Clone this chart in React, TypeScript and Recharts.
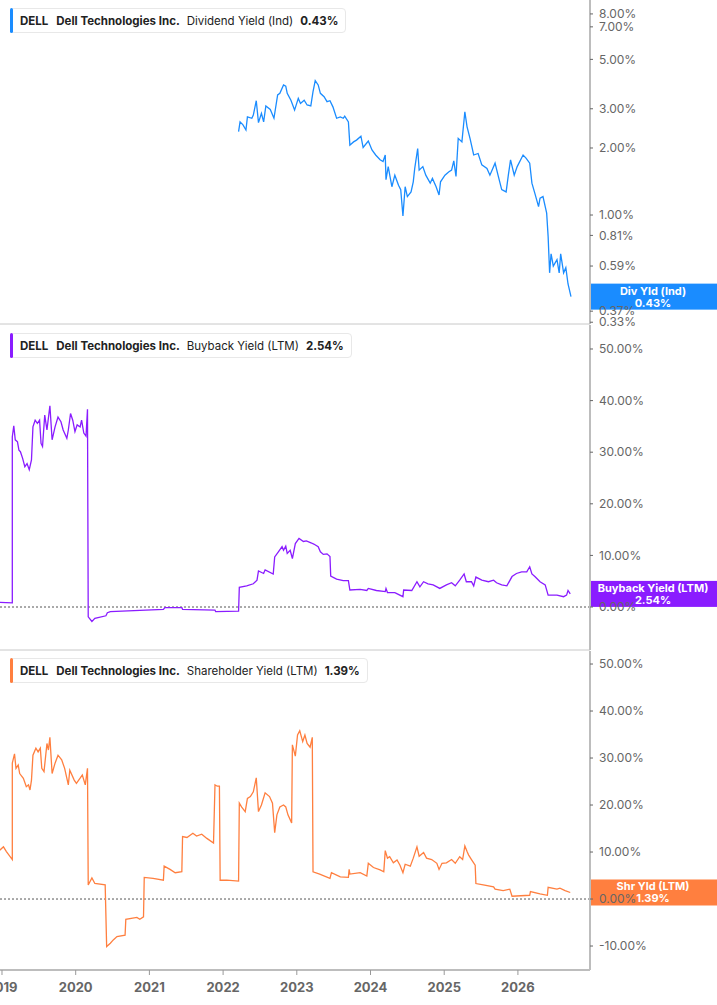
import React from 'react'
import { LineChart, Line, XAxis, YAxis, ReferenceLine } from 'recharts'

// time axis in decimal years
const X_DOMAIN = [2018.973, 2026.978]
const yearTicks = [2019, 2020, 2021, 2022, 2023, 2024, 2025, 2026]

const divDates = [
  2022.21, 2022.23, 2022.27, 2022.31, 2022.33, 2022.39, 2022.41, 2022.45, 2022.48, 2022.52,
  2022.55, 2022.58, 2022.64, 2022.69, 2022.74, 2022.77, 2022.82, 2022.85, 2022.87, 2022.92,
  2022.97, 2023.02, 2023.05, 2023.1, 2023.14, 2023.19, 2023.22, 2023.25, 2023.29, 2023.32,
  2023.37, 2023.41, 2023.45, 2023.49, 2023.54, 2023.59, 2023.63, 2023.65, 2023.7, 2023.72,
  2023.77, 2023.81, 2023.87, 2023.9, 2023.97, 2024.02, 2024.07, 2024.13, 2024.17, 2024.2,
  2024.21, 2024.24, 2024.29, 2024.33, 2024.38, 2024.41, 2024.44, 2024.47, 2024.5, 2024.55,
  2024.58, 2024.6, 2024.64, 2024.66, 2024.71, 2024.75, 2024.81, 2024.84, 2024.89, 2024.93,
  2024.95, 2025.01, 2025.06, 2025.1, 2025.13, 2025.16, 2025.19, 2025.24, 2025.28, 2025.31,
  2025.35, 2025.4, 2025.46, 2025.51, 2025.58, 2025.62, 2025.69, 2025.73, 2025.78, 2025.84,
  2025.87, 2025.9, 2025.95, 2025.99, 2026.07, 2026.11, 2026.16, 2026.19, 2026.23, 2026.28,
  2026.3, 2026.34, 2026.39, 2026.41, 2026.43, 2026.45, 2026.48, 2026.53, 2026.56, 2026.58,
  2026.62, 2026.65, 2026.68, 2026.72,
]
const divValues = [
  2.37, 2.62, 2.54, 2.41, 2.76, 2.72, 2.81, 3.26, 2.6, 2.86,
  2.62, 3.09, 2.98, 2.72, 3.46, 3.52, 3.84, 3.79, 3.52, 3.28,
  2.96, 3.34, 3.17, 3.28, 3.12, 3.09, 3.58, 4.01, 3.84, 3.52,
  3.4, 3.23, 3.26, 3.06, 2.72, 2.76, 2.72, 2.78, 2.62, 2.06,
  2.13, 2.17, 2.26, 2.01, 2.15, 1.96, 1.86, 1.77, 1.74, 1.86,
  1.44, 1.65, 1.34, 1.51, 1.36, 1.3, 0.99, 1.34, 1.21, 1.27,
  1.41, 1.62, 1.99, 1.59, 1.65, 1.51, 1.39, 1.46, 1.34, 1.23,
  1.41, 1.51, 1.56, 1.59, 1.75, 1.49, 2.21, 2.13, 2.91, 2.49,
  2.21, 1.86, 1.89, 1.68, 1.62, 1.51, 1.71, 1.51, 1.3, 1.27,
  1.51, 1.77, 1.51, 1.65, 1.86, 1.8, 1.71, 1.39, 1.25, 1.09,
  1.19, 1.21, 1.02, 0.8, 0.55, 0.67, 0.59, 0.63, 0.55, 0.67,
  0.55, 0.58, 0.49, 0.43,
]
const divTicks = [0.33, 0.37, 0.59, 0.81, 1, 2, 3, 5, 7, 8]

const buyDates = [
  2018.97, 2019.14, 2019.14, 2019.16, 2019.18, 2019.21, 2019.23, 2019.25, 2019.28, 2019.31,
  2019.34, 2019.37, 2019.4, 2019.42, 2019.45, 2019.48, 2019.51, 2019.53, 2019.55, 2019.58,
  2019.61, 2019.65, 2019.68, 2019.72, 2019.76, 2019.8, 2019.83, 2019.88, 2019.9, 2019.93,
  2019.96, 2019.99, 2020.02, 2020.06, 2020.08, 2020.11, 2020.14, 2020.16, 2020.17, 2020.22,
  2020.26, 2020.41, 2020.43, 2020.47, 2021.19, 2021.21, 2021.44, 2021.45, 2021.89, 2021.9,
  2022.21, 2022.22, 2022.32, 2022.41, 2022.46, 2022.48, 2022.55, 2022.57, 2022.68, 2022.7,
  2022.75, 2022.8, 2022.82, 2022.85, 2022.87, 2022.91, 2022.94, 2022.98, 2023.03, 2023.09,
  2023.13, 2023.2, 2023.23, 2023.29, 2023.32, 2023.36, 2023.41, 2023.45, 2023.46, 2023.54,
  2023.63, 2023.7, 2023.72, 2023.86, 2023.95, 2023.97, 2024.08, 2024.2, 2024.21, 2024.23,
  2024.33, 2024.44, 2024.45, 2024.56, 2024.63, 2024.67, 2024.72, 2024.78, 2024.85, 2024.94,
  2025.03, 2025.1, 2025.15, 2025.21, 2025.27, 2025.3, 2025.37, 2025.4, 2025.43, 2025.51,
  2025.6, 2025.67, 2025.71, 2025.78, 2025.85, 2025.92, 2025.98, 2026.05, 2026.12, 2026.16,
  2026.19, 2026.23, 2026.3, 2026.37, 2026.41, 2026.53, 2026.62, 2026.66, 2026.68, 2026.71,
]
const buyValues = [
  0.9, 0.8, 33.0, 35.1, 32.4, 32.0, 30.4, 30.1, 28.8, 27.2,
  27.8, 26.6, 28.5, 34.9, 36.2, 35.6, 36.2, 31.7, 31.1, 37.2,
  34.3, 39.0, 32.4, 34.9, 36.8, 35.9, 34.3, 32.7, 34.3, 37.5,
  36.2, 34.0, 35.3, 34.9, 36.2, 33.7, 33.1, 38.3, -1.9, -2.8,
  -2.2, -1.7, -1.1, -0.9, -0.45, -0.1, -0.1, -0.45, -0.6, -0.9,
  -0.8, 3.8, 4.1, 4.5, 5.2, 7.0, 6.5, 7.2, 6.4, 9.7,
  10.7, 11.7, 11.0, 11.8, 10.4, 11.0, 9.4, 12.3, 13.3, 12.7,
  12.8, 12.4, 12.2, 11.7, 10.7, 10.2, 10.3, 9.8, 6.0, 5.4,
  5.1, 5.1, 3.3, 3.4, 3.2, 3.6, 3.2, 3.0, 3.6, 2.8,
  2.8, 2.0, 3.3, 3.2, 4.9, 3.9, 4.9, 4.5, 4.3, 3.6,
  4.3, 4.7, 4.1, 5.2, 6.4, 4.9, 4.9, 4.1, 5.8, 5.2,
  4.9, 5.2, 4.7, 4.3, 4.1, 5.9, 6.5, 6.8, 6.8, 7.8,
  6.4, 5.9, 4.9, 4.3, 2.3, 2.3, 2.0, 2.3, 3.2, 2.54,
]
const buyTicks = [0, 10, 20, 30, 40, 50]

const shrDates = [
  2018.97, 2019.02, 2019.06, 2019.14, 2019.14, 2019.17, 2019.19, 2019.22, 2019.24, 2019.29,
  2019.33, 2019.36, 2019.38, 2019.4, 2019.42, 2019.46, 2019.49, 2019.52, 2019.54, 2019.57,
  2019.61, 2019.63, 2019.65, 2019.68, 2019.72, 2019.76, 2019.81, 2019.85, 2019.9, 2019.92,
  2019.98, 2020.01, 2020.06, 2020.09, 2020.13, 2020.16, 2020.17, 2020.22, 2020.26, 2020.4,
  2020.42, 2020.47, 2020.51, 2020.56, 2020.67, 2020.68, 2020.83, 2020.87, 2020.92, 2020.93,
  2021.05, 2021.19, 2021.2, 2021.28, 2021.35, 2021.44, 2021.45, 2021.51, 2021.59, 2021.64,
  2021.71, 2021.78, 2021.87, 2021.89, 2021.92, 2021.95, 2021.96, 2022.05, 2022.21, 2022.22,
  2022.25, 2022.3, 2022.33, 2022.37, 2022.41, 2022.45, 2022.48, 2022.52, 2022.57, 2022.63,
  2022.67, 2022.7, 2022.73, 2022.77, 2022.82, 2022.85, 2022.88, 2022.93, 2022.94, 2022.98,
  2023.01, 2023.04, 2023.08, 2023.11, 2023.14, 2023.18, 2023.21, 2023.22, 2023.31, 2023.45,
  2023.47, 2023.59, 2023.7, 2023.71, 2023.72, 2023.86, 2023.95, 2023.97, 2024.04, 2024.13,
  2024.18, 2024.2, 2024.23, 2024.26, 2024.31, 2024.36, 2024.4, 2024.44, 2024.47, 2024.54,
  2024.58, 2024.63, 2024.66, 2024.72, 2024.76, 2024.83, 2024.9, 2024.93, 2024.97, 2025.03,
  2025.1, 2025.15, 2025.21, 2025.25, 2025.28, 2025.31, 2025.33, 2025.37, 2025.42, 2025.43,
  2025.53, 2025.67, 2025.69, 2025.8, 2025.89, 2025.92, 2026.16, 2026.17, 2026.3, 2026.4,
  2026.41, 2026.53, 2026.57, 2026.64, 2026.71,
]
const shrValues = [
  10.4, 11.1, 10.1, 8.4, 28.9, 30.9, 27.8, 28.5, 26.7, 25.7,
  23.9, 24.3, 23.2, 25.3, 30.6, 32.1, 31.3, 32.1, 27.8, 27.1,
  33.1, 31.7, 34.4, 26.7, 28.9, 30.6, 29.6, 27.8, 24.3, 27.4,
  25.3, 24.6, 25.7, 26.4, 24.3, 27.8, 3.0, 4.5, 3.3, 3.0,
  -10.1, -9.4, -8.7, -8.0, -7.7, -4.3, -3.9, -4.3, -3.8, 4.6,
  4.4, 4.0, 7.0, 6.3, 5.6, 5.8, 13.3, 13.1, 14.0, 13.4,
  13.8, 12.9, 11.9, 24.3, 24.0, 24.0, 4.0, 4.0, 3.8, 20.4,
  19.6, 18.6, 21.4, 21.8, 22.8, 25.8, 18.6, 20.0, 22.6, 21.8,
  20.4, 14.1, 17.9, 19.6, 20.0, 19.6, 17.9, 16.2, 32.8, 30.4,
  34.9, 35.8, 33.5, 34.9, 33.1, 32.3, 34.4, 5.8, 5.3, 4.4,
  5.6, 4.7, 4.6, 6.3, 5.3, 5.6, 4.9, 7.6, 6.7, 6.2,
  5.8, 10.3, 8.7, 9.0, 7.7, 8.3, 7.2, 5.6, 7.4, 7.0,
  8.7, 11.1, 9.1, 9.9, 8.7, 8.4, 7.6, 6.3, 7.6, 7.7,
  8.4, 7.6, 9.0, 8.4, 11.3, 10.1, 9.4, 8.4, 7.2, 3.3,
  3.0, 2.6, 2.1, 1.8, 2.1, 0.6, 0.8, 1.6, 1.1, 0.8,
  2.5, 2.1, 2.3, 1.8, 1.39,
]
const shrTicks = [-10, 0, 10, 20, 30, 40, 50]

const divData = divDates.map((t, i) => ({ t, v: divValues[i] }))
const buyData = buyDates.map((t, i) => ({ t, v: buyValues[i] }))
const shrData = shrDates.map((t, i) => ({ t, v: shrValues[i] }))

const BLUE = '#1a8cff'
const PURPLE = '#8a1cff'
const ORANGE = '#ff7f3f'
const FONT = 'Inter, "Noto Sans", sans-serif'
const AXIS_GRAY = '#bdbdbd'

const yTick = { fill: '#666', fontSize: 12, fontFamily: FONT }

function ValueTag(props: any) {
  const { viewBox, color, title, value } = props
  if (!viewBox) return null
  const x = viewBox.x + viewBox.width
  const y = viewBox.y
  return (
    <g>
      <rect x={x} y={y - 13} width={127} height={26} fill={color} />
      <text x={x + 63} y={y - 2} textAnchor="middle" fill="#fff" fontSize={11} fontWeight={700} fontFamily={FONT}>
        {title}
      </text>
      <text x={x + 63} y={y + 10} textAnchor="middle" fill="#fff" fontSize={11} fontWeight={700} fontFamily={FONT}>
        {value}
      </text>
    </g>
  )
}

function Legend({ top, color, metric, value }: any) {
  return (
    <div
      style={{
        position: 'absolute', left: 10, top, height: 25, display: 'flex', alignItems: 'center',
        background: '#fff', border: '1px solid #e8e8e8', borderRadius: 4, paddingRight: 7,
        fontFamily: FONT, fontSize: 11.5, color: '#222', whiteSpace: 'nowrap', boxSizing: 'border-box',
      }}
    >
      <div style={{ width: 3, height: 25, marginLeft: -1, background: color, borderRadius: 2 }} />
      <span style={{ fontWeight: 700, marginLeft: 7 }}>DELL</span>
      <span style={{ fontWeight: 700, marginLeft: 8 }}>Dell Technologies Inc.</span>
      <span style={{ marginLeft: 7 }}>{metric}</span>
      <span style={{ fontWeight: 700, marginLeft: 7 }}>{value}</span>
    </div>
  )
}

const pct = (v: number) => `${v.toFixed(2)}%`

export default function App() {
  return (
    <div style={{ position: 'absolute', left: 0, top: 0, width: 717, height: 1005, background: '#fff' }}>
      <div style={{ position: 'absolute', left: 0, top: 0 }}>
        <LineChart width={717} height={335} data={divData} margin={{ top: 0, right: 0, bottom: 10, left: 0 }}>
          <XAxis dataKey="t" type="number" domain={X_DOMAIN} allowDataOverflow height={1} tick={false} tickLine={false} axisLine={{ stroke: '#c8c8c8' }} />
          <YAxis
            orientation="right" width={127} scale="log" domain={[0.324, 9.24]} allowDataOverflow
            ticks={divTicks} interval={0} tickFormatter={pct} tick={yTick}
            axisLine={{ stroke: AXIS_GRAY, strokeWidth: 2 }} tickLine={{ stroke: '#666' }} tickSize={3} tickMargin={6}
          />
          <Line dataKey="v" stroke={BLUE} strokeWidth={1.3} dot={false} activeDot={false} isAnimationActive={false} />
          <ReferenceLine y={0.43} stroke="none" label={<ValueTag color={BLUE} title="Div Yld (Ind)" value="0.43%" />} />
        </LineChart>
      </div>
      <div style={{ position: 'absolute', left: 0, top: 325 }}>
        <LineChart width={717} height={336} data={buyData} margin={{ top: 0, right: 0, bottom: 10, left: 0 }}>
          <XAxis dataKey="t" type="number" domain={X_DOMAIN} allowDataOverflow height={1} tick={false} tickLine={false} axisLine={{ stroke: '#c8c8c8' }} />
          <YAxis
            orientation="right" width={127} domain={[-8.33, 54.65]} allowDataOverflow
            ticks={buyTicks} interval={0} tickFormatter={pct} tick={yTick}
            axisLine={{ stroke: AXIS_GRAY, strokeWidth: 2 }} tickLine={{ stroke: '#666' }} tickSize={3} tickMargin={6}
          />
          <ReferenceLine y={0} stroke="#555" strokeDasharray="2 2" />
          <Line dataKey="v" stroke={PURPLE} strokeWidth={1.3} dot={false} activeDot={false} isAnimationActive={false} />
          <ReferenceLine y={2.54} stroke="none" label={<ValueTag color={PURPLE} title="Buyback Yield (LTM)" value="2.54%" />} />
        </LineChart>
      </div>
      <div style={{ position: 'absolute', left: 0, top: 651 }}>
        <LineChart width={717} height={354} data={shrData} margin={{ top: 0, right: 0, bottom: 0, left: 0 }}>
          <XAxis
            dataKey="t" type="number" domain={X_DOMAIN} allowDataOverflow height={35}
            ticks={yearTicks} interval={0} tickFormatter={(v: number) => String(Math.round(v))}
            tick={{ fill: '#666', fontSize: 13, fontWeight: 700, fontFamily: FONT }}
            axisLine={{ stroke: AXIS_GRAY, strokeWidth: 2 }} tickLine={{ stroke: '#999' }} tickSize={5} tickMargin={8}
          />
          <YAxis
            orientation="right" width={127} domain={[-15.1, 52.77]} allowDataOverflow
            ticks={shrTicks} interval={0} tickFormatter={pct} tick={yTick}
            axisLine={{ stroke: AXIS_GRAY, strokeWidth: 2 }} tickLine={{ stroke: '#666' }} tickSize={3} tickMargin={6}
          />
          <ReferenceLine y={0} stroke="#555" strokeDasharray="2 2" />
          <Line dataKey="v" stroke={ORANGE} strokeWidth={1.3} dot={false} activeDot={false} isAnimationActive={false} />
          <ReferenceLine y={1.39} stroke="none" label={<ValueTag color={ORANGE} title="Shr Yld (LTM)" value="1.39%" />} />
        </LineChart>
      </div>
      <Legend top={8} color={BLUE} metric="Dividend Yield (Ind)" value="0.43%" />
      <Legend top={333} color={PURPLE} metric="Buyback Yield (LTM)" value="2.54%" />
      <Legend top={658} color={ORANGE} metric="Shareholder Yield (LTM)" value="1.39%" />
    </div>
  )
}
